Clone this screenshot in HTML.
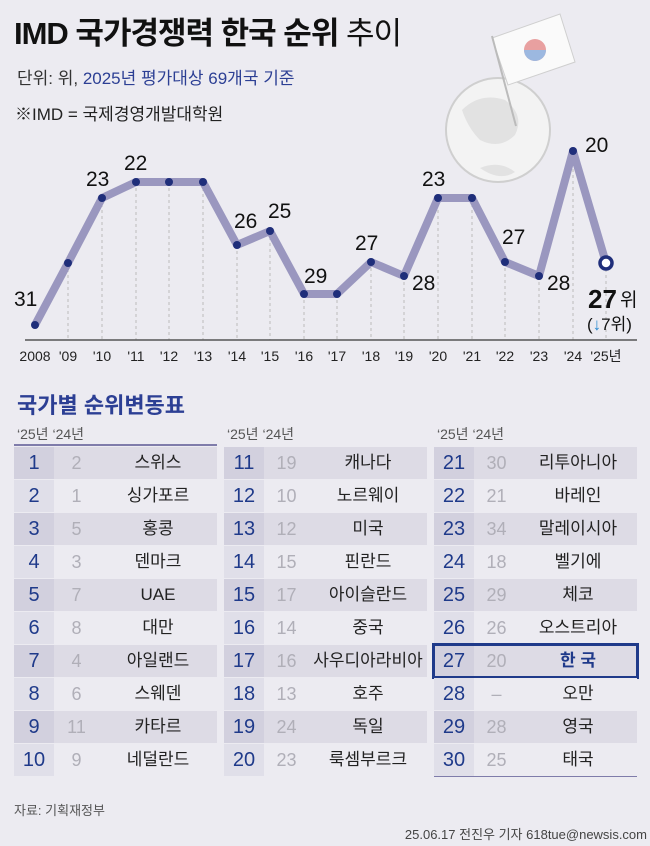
<!DOCTYPE html><html><head><meta charset="utf-8"><style>
body{margin:0;width:650px;height:846px;background:#ecebf1;font-family:"Liberation Sans","Noto Sans CJK KR",sans-serif;position:relative;overflow:hidden}
.a{position:absolute;white-space:nowrap}
.r{position:absolute;height:32px;width:203px;font-size:17px;line-height:32px}
.r.d{background:#dddbe5}.r.l{background:#ecebf1}
.r b{position:absolute;left:0;top:0;width:40px;height:32px;text-align:center;color:#1f3a8a;font-weight:normal;font-size:20px;background:#d2d0de}
.r.l b{background:#e0dfe9}
.r i{position:absolute;left:40px;width:45px;text-align:center;font-style:normal;color:#b0afb8;font-size:18px}
.r span{position:absolute;left:85px;width:118px;text-align:center;color:#222}
.h{font-size:14px;color:#555}
</style></head><body>
<div class="a" style="left:14px;top:8px;font-size:31px;font-weight:bold;color:#111;letter-spacing:-1px">IMD 국가경쟁력 한국 순위 <span style="font-weight:normal">추이</span></div>
<div class="a" style="left:17px;top:64px;font-size:17px;color:#333">단위: 위, <span style="color:#2c3f94">2025년 평가대상 69개국 기준</span></div>
<div class="a" style="left:15px;top:100px;font-size:17px;color:#222">※IMD = 국제경영개발대학원</div>
<svg class="a" style="left:0;top:0" width="650" height="380">
<circle cx="498" cy="130" r="52" fill="#f3f3f3" stroke="#cfcfcf" stroke-width="2"/>
<path d="M462 110 Q480 92 505 100 Q525 115 515 135 Q500 150 480 140 Q468 128 462 110 Z M480 168 Q500 160 515 172 Q500 182 480 168 Z" fill="#e2e2e2"/>
<path d="M492 38 L560 14 L575 62 L508 85 Z" fill="#fafafa" stroke="#cfcfcf"/>
<circle cx="535" cy="50" r="11" fill="#e8a0a0"/><path d="M524 50 A11 11 0 0 0 546 50 Z" fill="#9cb8e0"/>
<line x1="492" y1="36" x2="516" y2="126" stroke="#bbb" stroke-width="2"/>
<g stroke="#bbb" stroke-dasharray="3,3" stroke-width="1">
<line x1="68" y1="263" x2="68" y2="340"/><line x1="102" y1="198" x2="102" y2="340"/><line x1="136" y1="182" x2="136" y2="340"/><line x1="169" y1="182" x2="169" y2="340"/><line x1="203" y1="182" x2="203" y2="340"/><line x1="237" y1="245" x2="237" y2="340"/><line x1="270" y1="231" x2="270" y2="340"/><line x1="304" y1="294" x2="304" y2="340"/><line x1="337" y1="294" x2="337" y2="340"/><line x1="371" y1="262" x2="371" y2="340"/><line x1="404" y1="276" x2="404" y2="340"/><line x1="438" y1="198" x2="438" y2="340"/><line x1="472" y1="198" x2="472" y2="340"/><line x1="505" y1="262" x2="505" y2="340"/><line x1="539" y1="276" x2="539" y2="340"/><line x1="573" y1="151" x2="573" y2="340"/><line x1="606" y1="263" x2="606" y2="340"/></g>
<line x1="25" y1="340" x2="637" y2="340" stroke="#555" stroke-width="1.5"/>
<polyline fill="none" stroke="#9a97bf" stroke-width="8" stroke-linejoin="round" points="35,325 68,263 102,198 136,182 169,182 203,182 237,245 270,231 304,294 337,294 371,262 404,276 438,198 472,198 505,262 539,276 573,151 606,263"/>
<g fill="#1f2e7a"><circle cx="35" cy="325" r="4"/><circle cx="68" cy="263" r="4"/><circle cx="102" cy="198" r="4"/><circle cx="136" cy="182" r="4"/><circle cx="169" cy="182" r="4"/><circle cx="203" cy="182" r="4"/><circle cx="237" cy="245" r="4"/><circle cx="270" cy="231" r="4"/><circle cx="304" cy="294" r="4"/><circle cx="337" cy="294" r="4"/><circle cx="371" cy="262" r="4"/><circle cx="404" cy="276" r="4"/><circle cx="438" cy="198" r="4"/><circle cx="472" cy="198" r="4"/><circle cx="505" cy="262" r="4"/><circle cx="539" cy="276" r="4"/><circle cx="573" cy="151" r="4"/></g>
<circle cx="606" cy="263" r="6" fill="#fff" stroke="#1f2e7a" stroke-width="3.5"/>
<g font-size="21" fill="#111">
<text x="14" y="306">31</text><text x="86" y="186">23</text><text x="124" y="170">22</text><text x="234" y="228">26</text><text x="268" y="218">25</text><text x="304" y="283">29</text><text x="355" y="250">27</text><text x="412" y="290">28</text><text x="422" y="186">23</text><text x="502" y="244">27</text><text x="547" y="290">28</text><text x="585" y="152">20</text></g>
<text x="588" y="308" font-size="26" font-weight="bold" fill="#111">27</text><text x="620" y="306" font-size="19" fill="#111">위</text>
<text x="587" y="330" font-size="17" fill="#111">(<tspan fill="#2a8ad0">↓</tspan>7위)</text>
<g font-size="14" fill="#222" text-anchor="middle"><text x="35" y="361">2008</text><text x="68" y="361">'09</text><text x="102" y="361">'10</text><text x="136" y="361">'11</text><text x="169" y="361">'12</text><text x="203" y="361">'13</text><text x="237" y="361">'14</text><text x="270" y="361">'15</text><text x="304" y="361">'16</text><text x="337" y="361">'17</text><text x="371" y="361">'18</text><text x="404" y="361">'19</text><text x="438" y="361">'20</text><text x="472" y="361">'21</text><text x="505" y="361">'22</text><text x="539" y="361">'23</text><text x="573" y="361">'24</text><text x="606" y="361">'25년</text></g>
</svg>
<div class="a" style="left:17px;top:388px;font-size:22px;font-weight:bold;color:#2c3f94">국가별 순위변동표</div>
<div class="a h" style="left:17px;top:424px">‘25년 ‘24년</div><div class="a h" style="left:227px;top:424px">‘25년 ‘24년</div><div class="a h" style="left:437px;top:424px">‘25년 ‘24년</div>
<div class="a" style="left:14px;top:444px;width:203px;height:2px;background:#7f7caa"></div>

<div class="r d" style="left:14px;top:447px"><b>1</b><i>2</i><span>스위스</span></div>
<div class="r l" style="left:14px;top:480px"><b>2</b><i>1</i><span>싱가포르</span></div>
<div class="r d" style="left:14px;top:513px"><b>3</b><i>5</i><span>홍콩</span></div>
<div class="r l" style="left:14px;top:546px"><b>4</b><i>3</i><span>덴마크</span></div>
<div class="r d" style="left:14px;top:579px"><b>5</b><i>7</i><span>UAE</span></div>
<div class="r l" style="left:14px;top:612px"><b>6</b><i>8</i><span>대만</span></div>
<div class="r d" style="left:14px;top:645px"><b>7</b><i>4</i><span>아일랜드</span></div>
<div class="r l" style="left:14px;top:678px"><b>8</b><i>6</i><span>스웨덴</span></div>
<div class="r d" style="left:14px;top:711px"><b>9</b><i>11</i><span>카타르</span></div>
<div class="r l" style="left:14px;top:744px"><b>10</b><i>9</i><span>네덜란드</span></div>

<div class="r d" style="left:224px;top:447px"><b>11</b><i>19</i><span>캐나다</span></div>
<div class="r l" style="left:224px;top:480px"><b>12</b><i>10</i><span>노르웨이</span></div>
<div class="r d" style="left:224px;top:513px"><b>13</b><i>12</i><span>미국</span></div>
<div class="r l" style="left:224px;top:546px"><b>14</b><i>15</i><span>핀란드</span></div>
<div class="r d" style="left:224px;top:579px"><b>15</b><i>17</i><span>아이슬란드</span></div>
<div class="r l" style="left:224px;top:612px"><b>16</b><i>14</i><span>중국</span></div>
<div class="r d" style="left:224px;top:645px"><b>17</b><i>16</i><span>사우디아라비아</span></div>
<div class="r l" style="left:224px;top:678px"><b>18</b><i>13</i><span>호주</span></div>
<div class="r d" style="left:224px;top:711px"><b>19</b><i>24</i><span>독일</span></div>
<div class="r l" style="left:224px;top:744px"><b>20</b><i>23</i><span>룩셈부르크</span></div>

<div class="r d" style="left:434px;top:447px"><b>21</b><i>30</i><span>리투아니아</span></div>
<div class="r l" style="left:434px;top:480px"><b>22</b><i>21</i><span>바레인</span></div>
<div class="r d" style="left:434px;top:513px"><b>23</b><i>34</i><span>말레이시아</span></div>
<div class="r l" style="left:434px;top:546px"><b>24</b><i>18</i><span>벨기에</span></div>
<div class="r d" style="left:434px;top:579px"><b>25</b><i>29</i><span>체코</span></div>
<div class="r l" style="left:434px;top:612px"><b>26</b><i>26</i><span>오스트리아</span></div>
<div class="r d" style="left:434px;top:645px"><b>27</b><i>20</i><span style="color:#1f3a8a;font-weight:bold">한 국</span></div>
<div class="a" style="left:432px;top:643px;width:201px;height:30px;border:3px solid #1f3a8a"></div>
<div class="r l" style="left:434px;top:678px"><b>28</b><i>–</i><span>오만</span></div>
<div class="r d" style="left:434px;top:711px"><b>29</b><i>28</i><span>영국</span></div>
<div class="r l" style="left:434px;top:744px"><b>30</b><i>25</i><span>태국</span></div>
<div class="a" style="left:434px;top:776px;width:203px;height:1px;background:#7f7caa"></div>

<div class="a" style="left:14px;top:800px;font-size:13px;color:#555">자료: 기획재정부</div>
<div class="a" style="right:3px;top:824px;font-size:13px;color:#444">25.06.17 전진우 기자 618tue@newsis.com</div>
</body></html>
